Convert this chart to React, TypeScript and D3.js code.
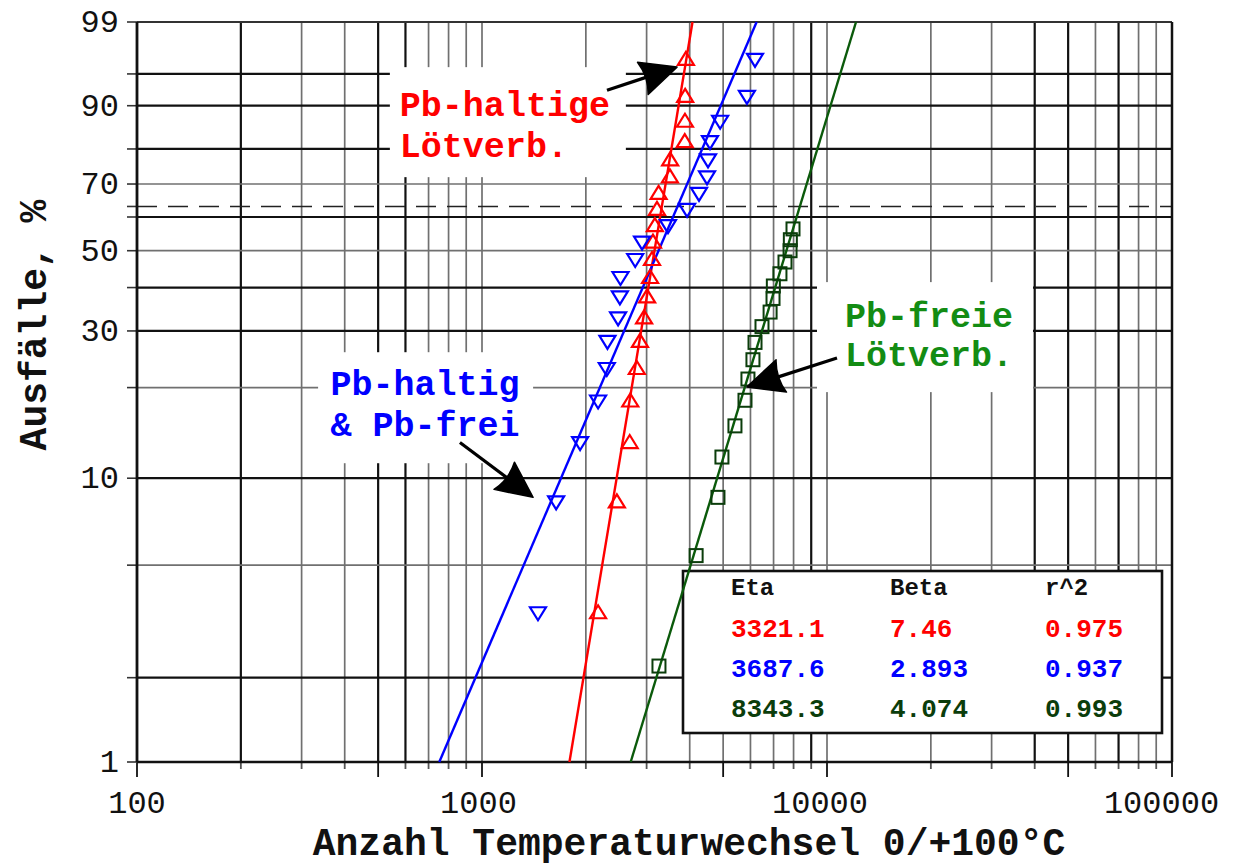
import * as d3 from 'd3';

// Weibull fit parameters (legend table)
const seriesKeys = ['pbHaltig', 'mixed', 'pbFrei'];
const etaValues = [3321.1, 3687.6, 8343.3];
const betaValues = [7.46, 2.893, 4.074];
const r2Values = [0.975, 0.937, 0.993];

// failure percentages (median ranks)
const rankPercent20 = [
  3.4, 8.3, 13.2, 18.1, 23.0, 27.9, 32.8, 37.7, 42.6, 47.5,
  52.5, 57.4, 62.3, 67.2, 72.1, 77.0, 81.9, 86.8, 91.7, 96.6,
];
const greenRankPercent = [
  2.2, 5.4, 8.6, 11.8, 15.0, 18.2, 21.3, 24.5, 27.7,
  30.9, 34.1, 37.3, 40.4, 43.6, 46.8, 50.0, 53.2, 56.4,
];

// cycles to failure
const redCycles = [
  2170, 2460, 2680, 2690, 2810, 2870, 2950, 3010, 3070, 3110,
  3130, 3170, 3215, 3250, 3505, 3510, 3870, 3875, 3880, 3900,
];
const blueCycles = [
  1453, 1640, 1925, 2170, 2300, 2310, 2480, 2510, 2520, 2780,
  2910, 3460, 3930, 4256, 4490, 4520, 4580, 4900, 5860, 6185,
];
const greenCycles = [
  3258, 4175, 4830, 4960, 5410, 5785, 5900, 6100, 6185,
  6480, 6840, 6975, 6990, 7305, 7555, 7815, 7830, 7970,
];

const xTickValues = [100, 1000, 10000, 100000];
const yTickValues = [1, 10, 30, 50, 70, 90, 99];
const xGridValues = [
  200, 300, 400, 500, 600, 700, 800, 900, 1000,
  2000, 3000, 4000, 5000, 6000, 7000, 8000, 9000, 10000,
  20000, 30000, 40000, 50000, 60000, 70000, 80000, 90000,
];
const xGridHeavy = [200, 500, 600, 9000, 40000, 50000, 70000];
const yGridValues = [2, 5, 10, 20, 30, 40, 50, 60, 70, 80, 90, 95];
const yGridLight = [5, 20, 50, 70];
const characteristicPercent = 63.2;

const MONO = "'Liberation Mono', 'Courier New', monospace";
const RED = '#ff0000';
const BLUE = '#0000ff';
const GREEN_LINE = '#0b5a0b';
const GREEN_TEXT = '#138c13';
const GREEN_DARK = '#0b3d0b';

const weib = (p: number) => Math.log(-Math.log(1 - p / 100));

export default function App() {
  const width = 1239;
  const height = 868;
  const left = 137;
  const right = 1172;
  const top = 22;
  const bottom = 762;

  const x = d3.scaleLog().domain([100, 100000]).range([left, right]);
  const y = d3.scaleLinear().domain([weib(1), weib(99)]).range([bottom, top]);
  const py = (p: number) => y(weib(p));

  // straight line in Weibull coordinates from 1% to 99%
  const fitPath = (i: number) => {
    const pts = [1, 99].map((p) => {
      const t = etaValues[i] * Math.pow(-Math.log(1 - p / 100), 1 / betaValues[i]);
      return [x(t), py(p)] as [number, number];
    });
    return d3.line()(pts) ?? '';
  };

  const seriesColors = [RED, BLUE, GREEN_LINE];
  const legendColors = [RED, BLUE, GREEN_DARK];

  const arrows = [
    { tail: [2303, 92.7], tip: [3675, 95.8] },
    { tail: [863, 13.2], tip: [1406, 8.6] },
    { tail: [10690, 24.8], tip: [5863, 20.1] },
  ];

  const arrowShape = (a: { tail: number[]; tip: number[] }) => {
    const x0 = x(a.tail[0]);
    const y0 = py(a.tail[1]);
    const x1 = x(a.tip[0]);
    const y1 = py(a.tip[1]);
    const dx = x1 - x0;
    const dy = y1 - y0;
    const len = Math.hypot(dx, dy);
    const ux = dx / len;
    const uy = dy / len;
    const headLen = 36;
    const headW = 17;
    const bx = x1 - ux * headLen;
    const by = y1 - uy * headLen;
    const head = `M${x1},${y1} L${bx - uy * headW},${by + ux * headW} Q${bx + ux * 6},${by + uy * 6} ${bx + uy * headW},${by - ux * headW} Z`;
    return { line: `M${x0},${y0} L${bx + ux * 8},${by + uy * 8}`, head };
  };

  // annotation labels (anchor in data coords)
  const redLabel = { x: x(578), y: py(87.9) };
  const blueLabel = { x: x(684), y: py(18.9) };
  const greenLabel = { x: x(11276), y: py(30.8) };

  const upTri = 'M0,-7.5 L8,5.5 L-8,5.5 Z';
  const downTri = 'M0,7.5 L8,-5.5 L-8,-5.5 Z';

  const legendX = [731, 890, 1045];
  const legendY = [595, 637, 677, 717];

  return (
    <div style={{ position: 'fixed', left: 0, top: 0 }}>
      <svg width={width} height={height} style={{ display: 'block', background: '#fff' }}>
        <rect x={0} y={0} width={width} height={height} fill="#fff" />

        {/* vertical grid */}
        {xGridValues.map((v) => {
          const heavy = xGridHeavy.includes(v);
          return (
            <line
              key={`vx${v}`}
              x1={x(v)}
              x2={x(v)}
              y1={top}
              y2={bottom}
              stroke={heavy ? '#111' : '#707070'}
              strokeWidth={heavy ? 2.2 : 1.7}
            />
          );
        })}
        {/* horizontal grid */}
        {yGridValues.map((v) => {
          const light = yGridLight.includes(v);
          return (
            <line
              key={`hy${v}`}
              x1={left}
              x2={right}
              y1={py(v)}
              y2={py(v)}
              stroke={light ? '#707070' : '#111'}
              strokeWidth={light ? 1.7 : 2.2}
            />
          );
        })}
        <line
          x1={left}
          x2={right}
          y1={py(characteristicPercent)}
          y2={py(characteristicPercent)}
          stroke="#222"
          strokeWidth={1.6}
          strokeDasharray="20 11"
        />

        {/* label backgrounds mask grid */}
        <rect x={redLabel.x - 10} y={redLabel.y - 49} width={236} height={110} fill="#fff" />
        <rect x={blueLabel.x - 107} y={blueLabel.y - 43} width={215} height={111} fill="#fff" />
        <rect x={greenLabel.x - 28} y={greenLabel.y - 45} width={216} height={110} fill="#fff" />

        {/* ticks */}
        {[100, ...xGridValues, 100000].map((v) => {
          const lead = Number(v.toExponential().charAt(0));
          const long = lead === 1 || lead === 5;
          return (
            <line
              key={`tx${v}`}
              x1={x(v)}
              x2={x(v)}
              y1={bottom}
              y2={bottom + (long ? 15 : 7)}
              stroke={long ? '#111' : '#555'}
              strokeWidth={1.8}
            />
          );
        })}
        {[1, ...yGridValues, characteristicPercent, 99].map((v) => (
          <line
            key={`ty${v}`}
            x1={left - 10}
            x2={left}
            y1={py(v)}
            y2={py(v)}
            stroke="#333"
            strokeWidth={1.6}
          />
        ))}

        {/* plot frame */}
        <line x1={left} x2={right} y1={top} y2={top} stroke="#333" strokeWidth={2} />
        <line x1={left} x2={right} y1={bottom} y2={bottom} stroke="#111" strokeWidth={2.5} />
        <line x1={left} x2={left} y1={top} y2={bottom} stroke="#111" strokeWidth={2.8} />
        <line x1={right} x2={right} y1={top} y2={bottom} stroke="#111" strokeWidth={2.5} />

        {/* legend table box */}
        <rect x={683} y={571} width={479} height={162} fill="#fff" stroke="#111" strokeWidth={2.6} />

        {/* fitted lines */}
        {seriesKeys.map((k, i) => (
          <path key={`fit${k}`} d={fitPath(i)} fill="none" stroke={seriesColors[i]} strokeWidth={2.4} />
        ))}

        {/* data markers */}
        {redCycles.map((t, i) => (
          <path
            key={`r${i}`}
            d={upTri}
            transform={`translate(${x(t)},${py(rankPercent20[i])})`}
            fill="none"
            stroke={RED}
            strokeWidth={2.2}
          />
        ))}
        {blueCycles.map((t, i) => (
          <path
            key={`b${i}`}
            d={downTri}
            transform={`translate(${x(t)},${py(rankPercent20[i])})`}
            fill="none"
            stroke={BLUE}
            strokeWidth={2.2}
          />
        ))}
        {greenCycles.map((t, i) => (
          <rect
            key={`g${i}`}
            x={x(t) - 6.5}
            y={py(greenRankPercent[i]) - 6.5}
            width={13}
            height={13}
            fill="none"
            stroke={GREEN_DARK}
            strokeWidth={2}
          />
        ))}

        {/* arrows */}
        {arrows.map((a, i) => {
          const s = arrowShape(a);
          return (
            <g key={`arrow${i}`}>
              <path d={s.line} stroke="#000" strokeWidth={3.2} fill="none" />
              <path d={s.head} fill="#000" stroke="#000" strokeWidth={1.5} strokeLinejoin="round" />
            </g>
          );
        })}

        {/* annotation labels */}
        <g fontFamily={MONO} fontWeight="bold" fontSize={35}>
          <text x={redLabel.x} y={redLabel.y} fill={RED}>Pb-haltige</text>
          <text x={redLabel.x} y={redLabel.y + 41} fill={RED}>Lötverb.</text>
          <text x={blueLabel.x} y={blueLabel.y} fill={BLUE} textAnchor="middle">Pb-haltig</text>
          <text x={blueLabel.x} y={blueLabel.y + 41} fill={BLUE} textAnchor="middle">&amp; Pb-frei</text>
          <text x={greenLabel.x} y={greenLabel.y} fill={GREEN_TEXT}>Pb-freie</text>
          <text x={greenLabel.x} y={greenLabel.y + 39} fill={GREEN_TEXT}>Lötverb.</text>
        </g>

        {/* legend table text */}
        <g fontFamily={MONO} fontWeight="bold">
          {['Eta', 'Beta', 'r^2'].map((h, j) => (
            <text key={h} x={legendX[j]} y={legendY[0]} fontSize={24} fill="#111">
              {h}
            </text>
          ))}
          {seriesKeys.map((k, i) => (
            <g key={`leg${k}`} fill={legendColors[i]} fontSize={26}>
              <text x={legendX[0]} y={legendY[i + 1]}>{String(etaValues[i])}</text>
              <text x={legendX[1]} y={legendY[i + 1]}>{String(betaValues[i])}</text>
              <text x={legendX[2]} y={legendY[i + 1]}>{r2Values[i].toFixed(3)}</text>
            </g>
          ))}
        </g>

        {/* tick labels */}
        <g fontFamily={MONO} fontSize={32} fill="#111">
          {xTickValues.map((v) => {
            const s = String(v);
            return (
              <text key={`xl${v}`} x={x(v) - (s.length - 3) * 3.5} y={813} textAnchor="middle">
                {s}
              </text>
            );
          })}
          {yTickValues.map((v) => (
            <text key={`yl${v}`} x={119} y={py(v) + 10} textAnchor="end">
              {v}
            </text>
          ))}
        </g>

        {/* axis titles */}
        <text
          x={689}
          y={855}
          textAnchor="middle"
          fontFamily={MONO}
          fontWeight="bold"
          fontSize={38}
          fill="#111"
        >
          Anzahl Temperaturwechsel 0/+100°C
        </text>
        <text
          transform={`translate(46,${325}) rotate(-90)`}
          textAnchor="middle"
          fontFamily={MONO}
          fontWeight="bold"
          fontSize={38}
          fill="#111"
        >
          Ausfälle, %
        </text>
      </svg>
    </div>
  );
}
